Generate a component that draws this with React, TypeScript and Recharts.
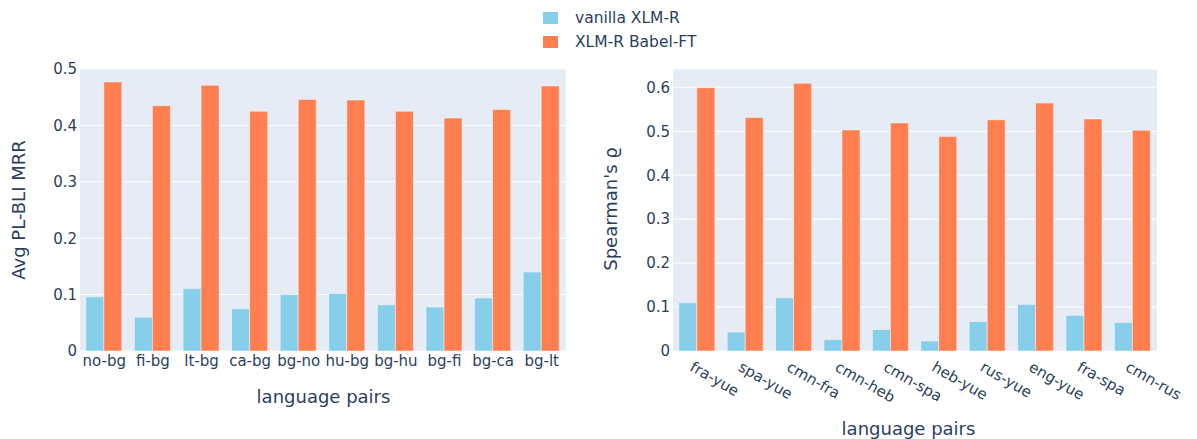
import React from 'react';
import { BarChart, Bar, XAxis, YAxis, CartesianGrid } from 'recharts';

const seriesNames = ['vanilla XLM-R', 'XLM-R Babel-FT'];
const seriesColors = ['#87CEEB', '#FF7F50'];

const bliPairs = ['no-bg', 'fi-bg', 'lt-bg', 'ca-bg', 'bg-no', 'hu-bg', 'bg-hu', 'bg-fi', 'bg-ca', 'bg-lt'];
const bliVanilla = [0.096, 0.06, 0.111, 0.075, 0.1, 0.102, 0.082, 0.078, 0.094, 0.14];
const bliBabel = [0.477, 0.435, 0.471, 0.425, 0.446, 0.445, 0.425, 0.413, 0.428, 0.47];
const bliTicks = [0, 0.1, 0.2, 0.3, 0.4, 0.5];

const simPairs = ['fra-yue', 'spa-yue', 'cmn-fra', 'cmn-heb', 'cmn-spa', 'heb-yue', 'rus-yue', 'eng-yue', 'fra-spa', 'cmn-rus'];
const simVanilla = [0.11, 0.043, 0.121, 0.026, 0.049, 0.023, 0.067, 0.106, 0.081, 0.065];
const simBabel = [0.599, 0.531, 0.609, 0.503, 0.519, 0.488, 0.526, 0.564, 0.528, 0.502];
const simTicks = [0, 0.1, 0.2, 0.3, 0.4, 0.5, 0.6];

const bliData = bliPairs.map((p, i) => ({ pair: p, vanilla: bliVanilla[i], babel: bliBabel[i] }));
const simData = simPairs.map((p, i) => ({ pair: p, vanilla: simVanilla[i], babel: simBabel[i] }));

const FONT = '"DejaVu Sans", sans-serif';
const TXT = '#2a3f5f';
const TICK_FS = 15;
const LEGEND_FS = 15.5;
const TITLE_FS = 18;
const fmt = (v: number) => (v === 0 ? '0' : String(v));

const RotTick = (props: any) => {
  const { x, y, payload } = props;
  return (
    <g transform={`translate(${x + 2},${y + 7})`}>
      <text
        transform="rotate(30)"
        x={-5}
        y={0}
        dy="0.8em"
        textAnchor="start"
        fill={TXT}
        fontSize={TICK_FS}
        fontFamily={FONT}
      >
        {payload.value}
      </text>
    </g>
  );
};

const absText = (text: string, cx: number, cy: number, size: number, rotate = false): React.ReactNode => (
  <div
    style={{
      position: 'absolute',
      left: cx,
      top: cy,
      transform: `translate(-50%, -50%)${rotate ? ' rotate(-90deg)' : ''}`,
      whiteSpace: 'nowrap',
      fontFamily: FONT,
      fontSize: size,
      color: TXT,
      lineHeight: 1,
    }}
  >
    {text}
  </div>
);

export default function App() {
  return (
    <div style={{ position: 'absolute', left: 0, top: 0, width: 1197, height: 439, background: '#fff', overflow: 'hidden' }}>
      {/* Legend */}
      <div style={{ position: 'absolute', left: 543, top: 6, fontFamily: FONT, fontSize: LEGEND_FS, color: TXT }}>
        {seriesNames.map((n, i) => (
          <div key={n} style={{ display: 'flex', alignItems: 'center', height: 24 }}>
            <div style={{ width: 15, height: 12, background: seriesColors[i], marginRight: 17 }} />
            <span>{n}</span>
          </div>
        ))}
      </div>

      <div style={{ position: 'absolute', left: 0, top: 0 }}>
        <BarChart width={600} height={439} data={bliData} margin={{ top: 69, right: 34, bottom: 48, left: 0 }} barCategoryGap="12%" barGap={0}>
          <CartesianGrid fill="#E5ECF6" stroke="#ffffff" strokeWidth={1} vertical={false} />
          <XAxis
            dataKey="pair"
            height={40}
            axisLine={false}
            tickLine={false}
            tickSize={0}
            tickMargin={4}
            interval={0}
            tick={{ fill: TXT, fontSize: TICK_FS, fontFamily: FONT }}
          />
          <YAxis
            width={80}
            domain={[0, 0.5]}
            ticks={bliTicks}
            tickFormatter={fmt}
            axisLine={false}
            tickLine={false}
            tickSize={0}
            tickMargin={3}
            tick={{ fill: TXT, fontSize: TICK_FS, fontFamily: FONT }}
          />
          <Bar dataKey="vanilla" name={seriesNames[0]} fill={seriesColors[0]} stroke="rgba(255,255,255,0.45)" strokeWidth={1} isAnimationActive={false} />
          <Bar dataKey="babel" name={seriesNames[1]} fill={seriesColors[1]} stroke="rgba(255,255,255,0.45)" strokeWidth={1} isAnimationActive={false} />
        </BarChart>
      </div>

      <div style={{ position: 'absolute', left: 600, top: 0 }}>
        <BarChart width={597} height={439} data={simData} margin={{ top: 69, right: 40, bottom: 48, left: 0 }} barCategoryGap="12%" barGap={0}>
          <CartesianGrid fill="#E5ECF6" stroke="#ffffff" strokeWidth={1} vertical={false} />
          <XAxis
            dataKey="pair"
            height={40}
            axisLine={false}
            tickLine={false}
            tickSize={0}
            tickMargin={4}
            interval={0}
            tick={<RotTick />}
          />
          <YAxis
            width={73}
            domain={[0, 0.6416]}
            ticks={simTicks}
            tickFormatter={fmt}
            axisLine={false}
            tickLine={false}
            tickSize={0}
            tickMargin={3}
            tick={{ fill: TXT, fontSize: TICK_FS, fontFamily: FONT }}
          />
          <Bar dataKey="vanilla" name={seriesNames[0]} fill={seriesColors[0]} stroke="rgba(255,255,255,0.45)" strokeWidth={1} isAnimationActive={false} />
          <Bar dataKey="babel" name={seriesNames[1]} fill={seriesColors[1]} stroke="rgba(255,255,255,0.45)" strokeWidth={1} isAnimationActive={false} />
        </BarChart>
      </div>

      {absText('Avg PL-BLI MRR', 18.5, 210, TITLE_FS, true)}
      {absText("Spearman's ϱ", 611, 209, TITLE_FS, true)}
      {absText('language pairs', 323.5, 397, TITLE_FS)}
      {absText('language pairs', 908.5, 429, TITLE_FS)}
    </div>
  );
}
